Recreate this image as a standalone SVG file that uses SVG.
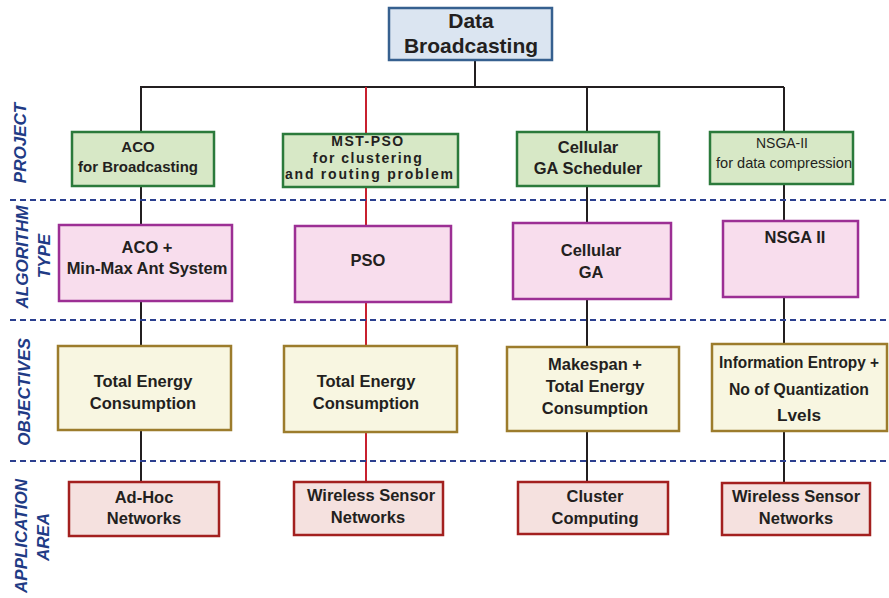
<svg xmlns="http://www.w3.org/2000/svg" width="889" height="598" viewBox="0 0 889 598">
<style>
text{font-family:"Liberation Sans",Arial,sans-serif;fill:#231f20;text-anchor:middle;font-weight:bold}
.lab{fill:#1f3b85;font-style:italic;font-size:17px}
.top{fill:#dbe5f1;stroke:#36608f;stroke-width:2.5}
.prj{fill:#d7e8c6;stroke:#2b7a3b;stroke-width:2.5}
.alg{fill:#f8dded;stroke:#9c2f94;stroke-width:2.5}
.obj{fill:#f8f6e1;stroke:#9c7c2c;stroke-width:2.5}
.app{fill:#f5e1df;stroke:#a3201f;stroke-width:2.5}
.c{stroke:#231f20;stroke-width:2;fill:none}
.r{stroke:#c8202f;stroke-width:2;fill:none}
.sep{stroke:#2b3f8f;stroke-width:2;stroke-dasharray:6 4}
.n{font-weight:normal}
</style>
<rect width="889" height="598" fill="#fff"/>
<g id="connectors">
<path class="c" d="M475 60V87M140 87H784M141 87V482M587 87V482M784 87V482"/>
<path class="r" d="M366 87V482"/>
</g>
<g id="separators">
<line class="sep" x1="10" y1="200" x2="889" y2="200"/>
<line class="sep" x1="10" y1="320" x2="889" y2="320"/>
<line class="sep" x1="10" y1="461" x2="889" y2="461"/>
</g>
<g id="labels">
<text class="lab" transform="translate(26,143) rotate(-90)">PROJECT</text>
<text class="lab" transform="translate(28,257) rotate(-90)">ALGORITHM</text>
<text class="lab" transform="translate(50,256) rotate(-90)">TYPE</text>
<text class="lab" transform="translate(30,392) rotate(-90)">OBJECTIVES</text>
<text class="lab" transform="translate(27,536) rotate(-90)">APPLICATION</text>
<text class="lab" transform="translate(49,537) rotate(-90)">AREA</text>
</g>
<g id="n-root"><rect class="top" x="389" y="8" width="163" height="52"/>
<text x="471" y="28" font-size="21">Data</text><text x="471" y="53" font-size="21">Broadcasting</text></g>
<g id="n-p1"><rect class="prj" x="72" y="132" width="142" height="54"/>
<text x="138" y="152" font-size="15">ACO</text><text x="138" y="172" font-size="15">for Broadcasting</text></g>
<g id="n-p2"><rect class="prj" x="283" y="134" width="175" height="53"/>
<text x="368" y="146" font-size="14" letter-spacing="1.5">MST-PSO</text><text x="368" y="163" font-size="14" letter-spacing="1.5">for clustering</text><text x="369" y="179" font-size="14" textLength="168" lengthAdjust="spacing">and routing problem</text></g>
<g id="n-p3"><rect class="prj" x="517" y="132" width="142" height="54"/>
<text x="588" y="153" font-size="16.5">Cellular</text><text x="588" y="174" font-size="16.5">GA Scheduler</text></g>
<g id="n-p4"><rect class="prj" x="710" y="132" width="143" height="52"/>
<text x="782" y="148" font-size="15" class="n" textLength="52" lengthAdjust="spacingAndGlyphs">NSGA-II</text><text x="784" y="168" font-size="15" class="n" textLength="136" lengthAdjust="spacingAndGlyphs">for data compression</text></g>
<g id="n-a1"><rect class="alg" x="59" y="225" width="173" height="76"/>
<text x="147" y="253" font-size="16.5">ACO +</text><text x="147" y="274" font-size="16.5">Min-Max Ant System</text></g>
<g id="n-a2"><rect class="alg" x="295" y="226" width="156" height="76"/>
<text x="368" y="266" font-size="16.5">PSO</text></g>
<g id="n-a3"><rect class="alg" x="513" y="223" width="158" height="76"/>
<text x="591" y="256" font-size="16.5">Cellular</text><text x="591" y="278" font-size="16.5">GA</text></g>
<g id="n-a4"><rect class="alg" x="723" y="221" width="135" height="76"/>
<text x="795" y="243" font-size="16.5">NSGA II</text></g>
<g id="n-o1"><rect class="obj" x="58" y="346" width="173" height="84"/>
<text x="143" y="387" font-size="16.5">Total Energy</text><text x="143" y="409" font-size="16.5">Consumption</text></g>
<g id="n-o2"><rect class="obj" x="284" y="346" width="173" height="86"/>
<text x="366" y="387" font-size="16.5">Total Energy</text><text x="366" y="409" font-size="16.5">Consumption</text></g>
<g id="n-o3"><rect class="obj" x="507" y="347" width="172" height="84"/>
<text x="595" y="370" font-size="16.5">Makespan +</text><text x="595" y="392" font-size="16.5">Total Energy</text><text x="595" y="414" font-size="16.5">Consumption</text></g>
<g id="n-o4"><rect class="obj" x="712" y="344" width="175" height="87"/>
<text x="799" y="368" font-size="16" textLength="160" lengthAdjust="spacingAndGlyphs">Information Entropy +</text><text x="799" y="395" font-size="16.5" textLength="140" lengthAdjust="spacingAndGlyphs">No of Quantization</text><text x="799" y="421" font-size="16.5" textLength="44" lengthAdjust="spacingAndGlyphs">Lvels</text></g>
<g id="n-x1"><rect class="app" x="69" y="482" width="150" height="54"/>
<text x="144" y="503" font-size="16.5">Ad-Hoc</text><text x="144" y="524" font-size="16.5">Networks</text></g>
<g id="n-x2"><rect class="app" x="294" y="482" width="149" height="53"/>
<text x="371" y="501" font-size="16.5">Wireless Sensor</text><text x="368" y="523" font-size="16.5">Networks</text></g>
<g id="n-x3"><rect class="app" x="518" y="482" width="150" height="52"/>
<text x="595" y="502" font-size="16.5">Cluster</text><text x="595" y="524" font-size="16.5">Computing</text></g>
<g id="n-x4"><rect class="app" x="722" y="483" width="148" height="52"/>
<text x="796" y="502" font-size="16.5">Wireless Sensor</text><text x="796" y="524" font-size="16.5">Networks</text></g>
</svg>
